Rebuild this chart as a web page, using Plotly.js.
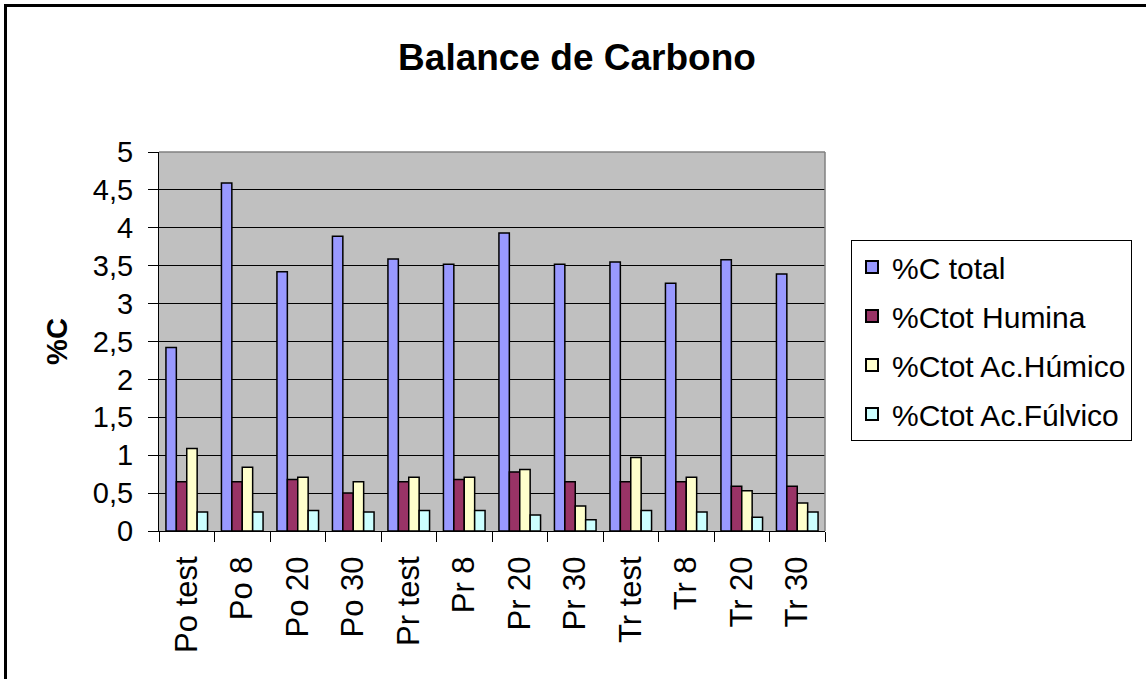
<!DOCTYPE html>
<html>
<head>
<meta charset="utf-8">
<script src="https://cdn.plot.ly/plotly-3.0.1.min.js"></script>
<style>html,body{margin:0;padding:0;background:#fff;}#chart{width:1146px;height:679px;}</style>
</head>
<body>
<div id="chart"></div>
<script>
const categories = ["Po test","Po 8","Po 20","Po 30","Pr test","Pr 8","Pr 20","Pr 30","Tr test","Tr 8","Tr 20","Tr 30"];
const seriesNames = ["%C total","%Ctot Humina","%Ctot Ac.Húmico","%Ctot Ac.Fúlvico"];
const cTotal   = [2.42,4.59,3.42,3.89,3.59,3.52,3.93,3.52,3.55,3.27,3.58,3.39];
const cHumina  = [0.65,0.65,0.68,0.50,0.65,0.68,0.78,0.65,0.65,0.65,0.59,0.59];
const cHumico  = [1.09,0.84,0.71,0.65,0.71,0.71,0.81,0.33,0.97,0.71,0.53,0.37];
const cFulvico = [0.25,0.25,0.27,0.25,0.27,0.27,0.21,0.15,0.27,0.25,0.18,0.25];
const colors = ["#9999FF","#993366","#FFFFCC","#CCFFFF"];
const allSeries = [cTotal,cHumina,cHumico,cFulvico];

const FONT = "Liberation Sans, Arial, sans-serif";

const traces = allSeries.map((vals,i)=>({
  type:"bar",
  x:categories,
  y:vals,
  name:seriesNames[i],
  legendgroup:"g"+i,
  marker:{color:colors[i],line:{color:"#000",width:1.5}},
  hoverinfo:"x+y+name"
}));

const L=159, R=825, T=152, B=531, W=1146, H=679;
const pw=R-L, ph=B-T;
const px = v => (v-L)/pw;
const py = v => (B-v)/ph;

const layout = {
  width:W, height:H,
  margin:{l:L, r:W-R, t:T, b:H-B, pad:0},
  paper_bgcolor:"#ffffff",
  plot_bgcolor:"#C0C0C0",
  separators:",.",
  font:{family:FONT,color:"#000"},
  title:{text:"<b>Balance de Carbono</b>", font:{family:FONT,size:37,color:"#000"},
         x:577/W, xanchor:"center", y:1-57/H, yanchor:"middle", xref:"container", yref:"container"},
  bargap:0.25,
  bargroupgap:0,
  barmode:"group",
  showlegend:true,
  legend:{x:px(851), xanchor:"left", y:py(240), yanchor:"top",
          bordercolor:"#000", borderwidth:1, bgcolor:"#fff",
          font:{family:FONT,size:30,color:"#000"},
          traceorder:"grouped", tracegroupgap:7, itemsizing:"constant"},
  xaxis:{type:"category", tickangle:-90, ticks:"outside", ticklen:10, tickcolor:"#000",
         tickson:"boundaries", showline:true, linecolor:"#000", linewidth:1,
         ticklabelstandoff:12,
         showgrid:false, tickfont:{family:FONT,size:31,color:"#000"}, automargin:false},
  yaxis:{range:[0,5], dtick:0.5, tick0:0, ticks:"outside", ticklen:10, tickcolor:"#000",
         showline:true, linecolor:"#000", linewidth:1, showgrid:true, gridcolor:"#000",
         gridwidth:1, zeroline:false, tickfont:{family:FONT,size:29,color:"#000"},
         ticklabelstandoff:9,
         title:{text:"<b>%C</b>", font:{family:FONT,size:29,color:"#000"}, standoff:16},
         automargin:false},
  shapes:[
    {type:"line", xref:"paper", yref:"paper", x0:0, x1:1, y0:1, y1:1, line:{color:"#808080", width:1.5}},
    {type:"line", xref:"paper", yref:"paper", x0:1, x1:1, y0:0, y1:1, line:{color:"#808080", width:1.5}},
    {type:"rect", xref:"paper", yref:"paper", x0:px(5.5), x1:px(1160), y0:py(690), y1:py(5.5),
     line:{color:"#000", width:3}, fillcolor:"rgba(0,0,0,0)"}
  ]
};

Plotly.newPlot("chart", traces, layout, {displayModeBar:false, staticPlot:true});
</script>
</body>
</html>
